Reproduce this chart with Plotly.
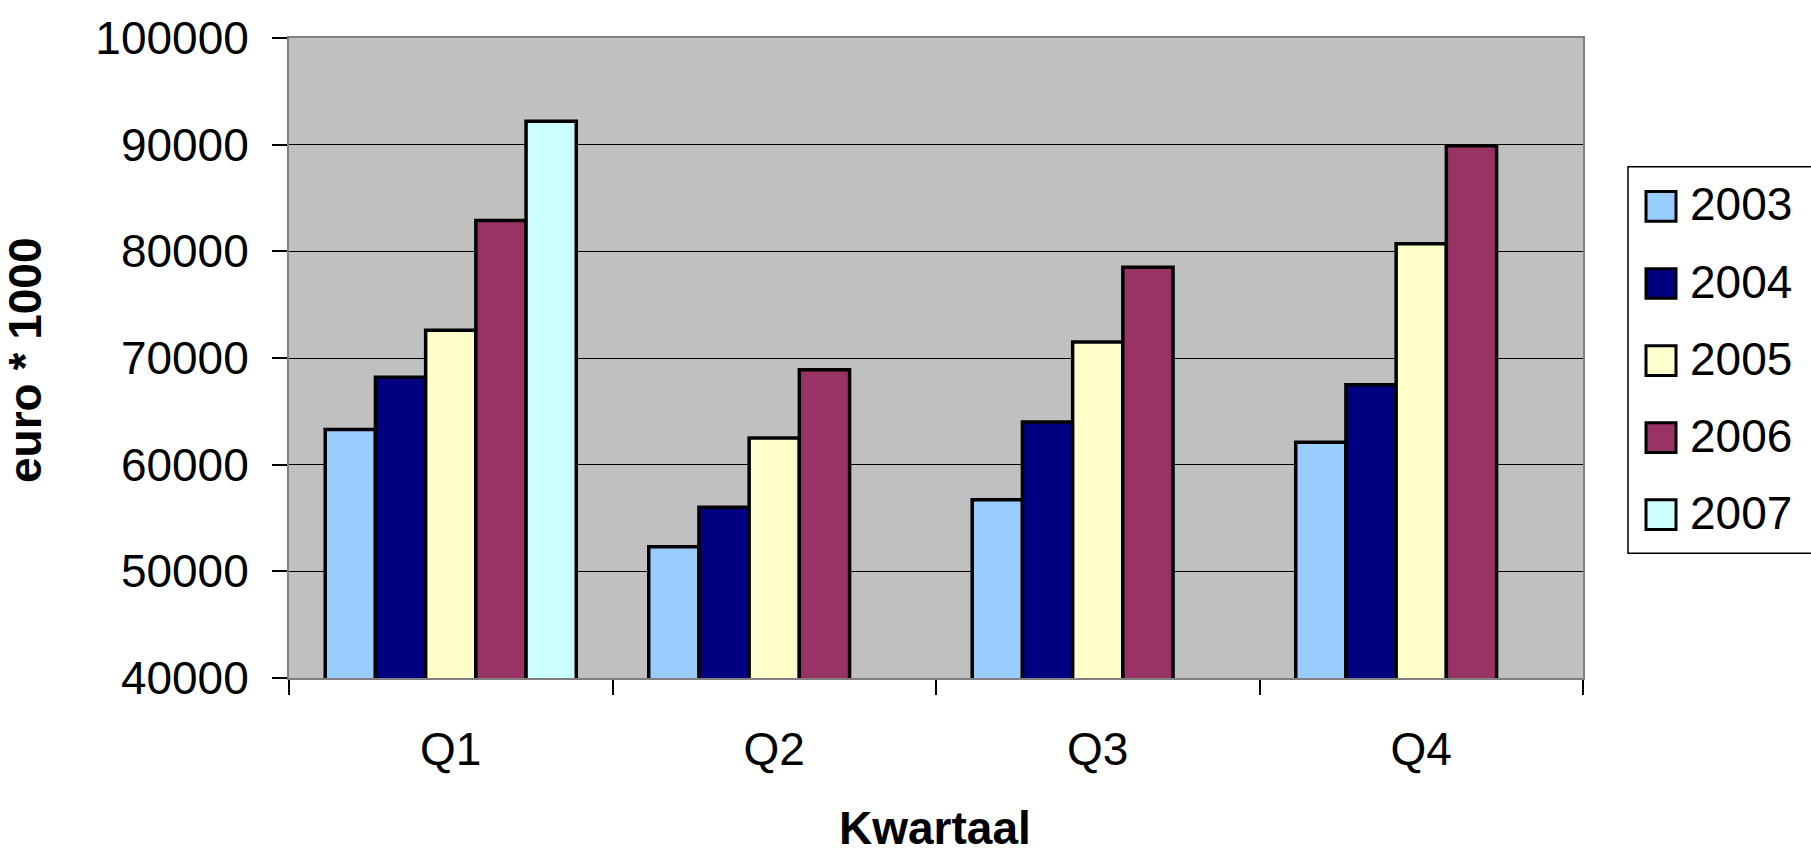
import plotly.graph_objects as go

# ---- data ----
quarters = ["Q1", "Q2", "Q3", "Q4"]
years = ["2003", "2004", "2005", "2006", "2007"]
v2003 = [63300, 52300, 56700, 62100]
v2004 = [68200, 56000, 64000, 67500]
v2005 = [72600, 62500, 71500, 80700]
v2006 = [82900, 68900, 78500, 89900]
v2007 = [92200, None, None, None]
colors = ["#99CCFF", "#000080", "#FFFFCC", "#993366", "#CCFFFF"]
y_ticks = [40000, 50000, 60000, 70000, 80000, 90000, 100000]

series = [v2003, v2004, v2005, v2006, v2007]

FONT = "Liberation Sans, Arial, sans-serif"
FS = 46

W, H = 1811, 854
ML, MR, MT, MB = 289, 228, 32, 176
PW = W - ML - MR
PH = H - MT - MB

fig = go.Figure()
for name, vals, col in zip(years, series, colors):
    fig.add_trace(go.Bar(
        x=quarters, y=vals, name=name,
        marker=dict(color=col, line=dict(color="black", width=3.5)),
        showlegend=False,
    ))

# ---- custom legend (large square swatches) ----
def px_x(px):
    return (px - ML) / PW

def px_y(py):
    return (H - MB - py) / PH

shapes = [dict(type="rect", xref="paper", yref="paper",
               x0=px_x(1628), x1=px_x(1815), y0=px_y(552), y1=px_y(162),
               line=dict(color="black", width=1.5), fillcolor="white", layer="above")]
annotations = []
row0, step, sq = 202, 77.8, 30
for i, (name, col) in enumerate(zip(years, colors)):
    cy = row0 + i * step
    shapes.append(dict(type="rect", xref="paper", yref="paper",
                       x0=px_x(1646), x1=px_x(1676), y0=px_y(cy + sq / 2), y1=px_y(cy - sq / 2),
                       line=dict(color="black", width=3), fillcolor=col, layer="above"))
    annotations.append(dict(xref="paper", yref="paper", x=px_x(1688), y=px_y(cy - 2),
                            text=name, showarrow=False, xanchor="left", yanchor="middle",
                            font=dict(family=FONT, size=FS, color="black")))

# axis titles
annotations.append(dict(xref="paper", yref="paper", x=px_x(25), y=px_y(358),
                        text="<b>euro * 1000</b>", textangle=-90, showarrow=False,
                        xanchor="center", yanchor="middle",
                        font=dict(family=FONT, size=FS, color="black")))
annotations.append(dict(xref="paper", yref="paper", x=px_x(935), y=px_y(829),
                        text="<b>Kwartaal</b>", showarrow=False,
                        xanchor="center", yanchor="middle",
                        font=dict(family=FONT, size=FS, color="black")))

fig.update_layout(
    width=W, height=H,
    margin=dict(l=ML, r=MR, t=MT, b=MB, pad=0),
    paper_bgcolor="white",
    plot_bgcolor="#C0C0C0",
    barmode="group",
    bargap=0.224,
    bargroupgap=0,
    font=dict(family=FONT, size=FS, color="black"),
    shapes=shapes,
    annotations=annotations,
    showlegend=False,
    xaxis=dict(
        type="category",
        tickson="boundaries",
        ticks="outside", ticklen=15, tickwidth=1.5, tickcolor="black",
        showline=True, linecolor="#808080", linewidth=2, mirror=True,
        showgrid=False,
        tickfont=dict(family=FONT, size=FS, color="black"),
        ticklabelstandoff=30,
    ),
    yaxis=dict(
        range=[40000, 100000],
        tickvals=y_ticks,
        tickformat="d",
        ticks="outside", ticklen=15, tickwidth=1.5, tickcolor="black",
        showline=True, linecolor="#808080", linewidth=2, mirror=True,
        showgrid=True, gridcolor="black", gridwidth=1,
        zeroline=False,
        tickfont=dict(family=FONT, size=FS, color="black"),
        ticklabelstandoff=14,
    ),
)

fig.write_html("out.html",
               config={"displayModeBar": False},
               post_script="document.body.style.margin='0px';document.body.style.overflow='hidden';")
